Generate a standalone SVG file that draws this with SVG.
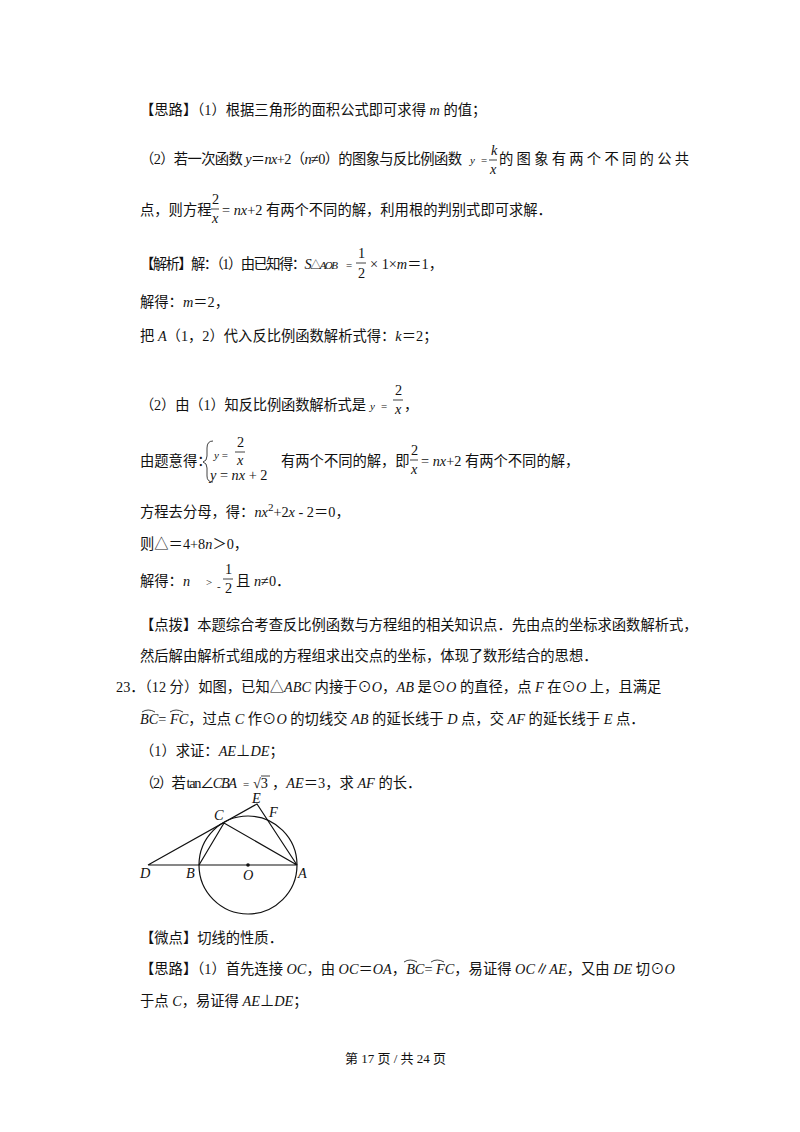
<svg xmlns="http://www.w3.org/2000/svg" width="800" height="1132" viewBox="0 0 800 1132">
<style>
text{font-family:"Liberation Serif","Noto Sans CJK SC",serif;font-size:14.3px;fill:#111}
.i{font-style:italic}
.s{font-size:11px}
.l{stroke:#111;stroke-width:1.2;fill:none}
.f{stroke:#111;stroke-width:0.8;fill:none}
</style>
<rect width="800" height="1132" fill="#fff"/>
<g id="text">
<text x="140" y="115">【思路】（1）根据三角形的面积公式即可求得 <tspan class="i">m</tspan> 的值；</text>
<text x="140" y="164" textLength="322" lengthAdjust="spacing">（2）若一次函数 <tspan class="i">y</tspan>＝<tspan class="i">nx</tspan>+2（<tspan class="i">n</tspan>≠0）的图象与反比例函数</text>
<text x="470" y="164" class="s"><tspan class="i">y</tspan></text>
<text x="481" y="164" class="s">=</text>
<text x="491" y="155" class="i">k</text><line x1="489" y1="160" x2="497" y2="160" class="f"/><text x="490" y="174" class="i">x</text>
<text x="499" y="164" textLength="190" lengthAdjust="spacing">的图象有两个不同的公共</text>
<text x="140" y="215">点，则方程</text>
<text x="212" y="204">2</text><line x1="211" y1="209" x2="219" y2="209" class="f"/><text x="212" y="223" class="i">x</text>
<text x="222" y="215">= <tspan class="i">nx</tspan>+2 有两个不同的解，利用根的判别式即可求解．</text>
<text x="140" y="269" textLength="198" lengthAdjust="spacing">【解析】解：（1）由已知得：<tspan class="i">S</tspan><tspan class="s">△<tspan class="i">AOB</tspan></tspan></text>
<text x="346" y="269" class="s">=</text>
<text x="358" y="258">1</text><line x1="356" y1="263" x2="366" y2="263" class="f"/><text x="358" y="278">2</text>
<text x="370" y="269">× 1×<tspan class="i">m</tspan>＝1，</text>
<text x="140" y="307">解得：<tspan class="i">m</tspan>＝2，</text>
<text x="140" y="341">把 <tspan class="i">A</tspan>（1，2）代入反比例函数解析式得：<tspan class="i">k</tspan>＝2；</text>
<text x="140" y="410" textLength="226" lengthAdjust="spacing">（2）由（1）知反比例函数解析式是</text>
<text x="370" y="410" class="s"><tspan class="i">y</tspan></text>
<text x="381" y="410" class="s">=</text>
<text x="395" y="395">2</text><line x1="393" y1="400" x2="403" y2="400" class="f"/><text x="395" y="414" class="i">x</text>
<text x="404" y="410">，</text>
<text x="140" y="466">由题意得：</text>
<path d="M213,441 Q207,441 207,448 L207,456 Q207,461 203,462 Q207,463 207,468 L207,476 Q207,482 213,482" class="f"/>
<text x="214" y="459" class="s"><tspan class="i">y</tspan>  =</text>
<text x="237" y="447">2</text><line x1="235" y1="452" x2="245" y2="452" class="f"/><text x="237" y="465" class="i">x</text>
<text x="210" y="480"><tspan class="i">y</tspan> = <tspan class="i">nx</tspan> + 2</text>
<text x="281" y="466">有两个不同的解，即</text>
<text x="411" y="455">2</text><line x1="410" y1="460" x2="418" y2="460" class="f"/><text x="411" y="474" class="i">x</text>
<text x="421" y="466">= <tspan class="i">nx</tspan>+2 有两个不同的解，</text>
<text x="140" y="517">方程去分母，得：<tspan class="i">nx</tspan><tspan class="s" dy="-6">2</tspan><tspan dy="6">+2</tspan><tspan class="i">x</tspan> - 2＝0，</text>
<text x="140" y="549">则△＝4+8<tspan class="i">n</tspan>＞0，</text>
<text x="140" y="586">解得：<tspan class="i">n</tspan></text>
<text x="206" y="586" class="s">&gt;</text>
<text x="217" y="590" class="s">-</text>
<text x="225" y="574">1</text><line x1="223" y1="579" x2="233" y2="579" class="f"/><text x="225" y="593">2</text>
<text x="236" y="586">且 <tspan class="i">n</tspan>≠0．</text>
<text x="140" y="630">【点拨】本题综合考查反比例函数与方程组的相关知识点．先由点的坐标求函数解析式，</text>
<text x="140" y="661">然后解由解析式组成的方程组求出交点的坐标，体现了数形结合的思想．</text>
<text x="116" y="692">23．（12 分）如图，已知△<tspan class="i">ABC</tspan> 内接于⊙<tspan class="i">O</tspan>，<tspan class="i">AB</tspan> 是⊙<tspan class="i">O</tspan> 的直径，点 <tspan class="i">F</tspan> 在⊙<tspan class="i">O</tspan> 上，且满足</text>
<text x="140" y="724"><tspan class="i">BC</tspan>= <tspan class="i">FC</tspan>，过点 <tspan class="i">C</tspan> 作⊙<tspan class="i">O</tspan> 的切线交 <tspan class="i">AB</tspan> 的延长线于 <tspan class="i">D</tspan> 点，交 <tspan class="i">AF</tspan> 的延长线于 <tspan class="i">E</tspan> 点．</text>
<path d="M142,712 Q148,708 155,712 M170,712 Q176,708 183,712" class="f"/>
<text x="140" y="756">（1）求证：<tspan class="i">AE</tspan>⊥<tspan class="i">DE</tspan>；</text>
<text x="140" y="788" textLength="97" lengthAdjust="spacing">（2）若 tan∠<tspan class="i">CBA</tspan></text>
<text x="243" y="788" class="s">=</text>
<text x="253" y="788">√3</text><line x1="261" y1="776" x2="270" y2="776" class="f"/>
<text x="272" y="788">，<tspan class="i">AE</tspan>＝3，求 <tspan class="i">AF</tspan> 的长．</text>
<text x="140" y="943">【微点】切线的性质．</text>
<text x="140" y="974">【思路】（1）首先连接 <tspan class="i">OC</tspan>，由 <tspan class="i">OC</tspan>＝<tspan class="i">OA</tspan>，<tspan class="i">BC</tspan>= <tspan class="i">FC</tspan>，易证得 <tspan class="i">OC</tspan>∥<tspan class="i">AE</tspan>，又由 <tspan class="i">DE</tspan> 切⊙<tspan class="i">O</tspan></text>
<path d="M404,962 Q410,958 417,962 M431,962 Q437,958 444,962" class="f"/>
<text x="140" y="1006">于点 <tspan class="i">C</tspan>，易证得 <tspan class="i">AE</tspan>⊥<tspan class="i">DE</tspan>；</text>
<text x="345" y="1063" style="font-size:13px">第 17 页 / 共 24 页</text>
</g>
<g id="figure">
<circle cx="248" cy="865" r="49" class="l"/>
<path d="M148,865 H297 M148,865 L257,804 L297,865 L224,823 L199,865" class="l"/>
<circle cx="248" cy="865" r="1.8" fill="#111"/>
<g class="i" style="font-size:13px">
<text x="140" y="878">D</text><text x="186" y="878">B</text><text x="243" y="880">O</text><text x="298" y="878">A</text>
<text x="214" y="820">C</text><text x="252" y="803">E</text><text x="269" y="817">F</text>
</g>
</g>
</svg>
